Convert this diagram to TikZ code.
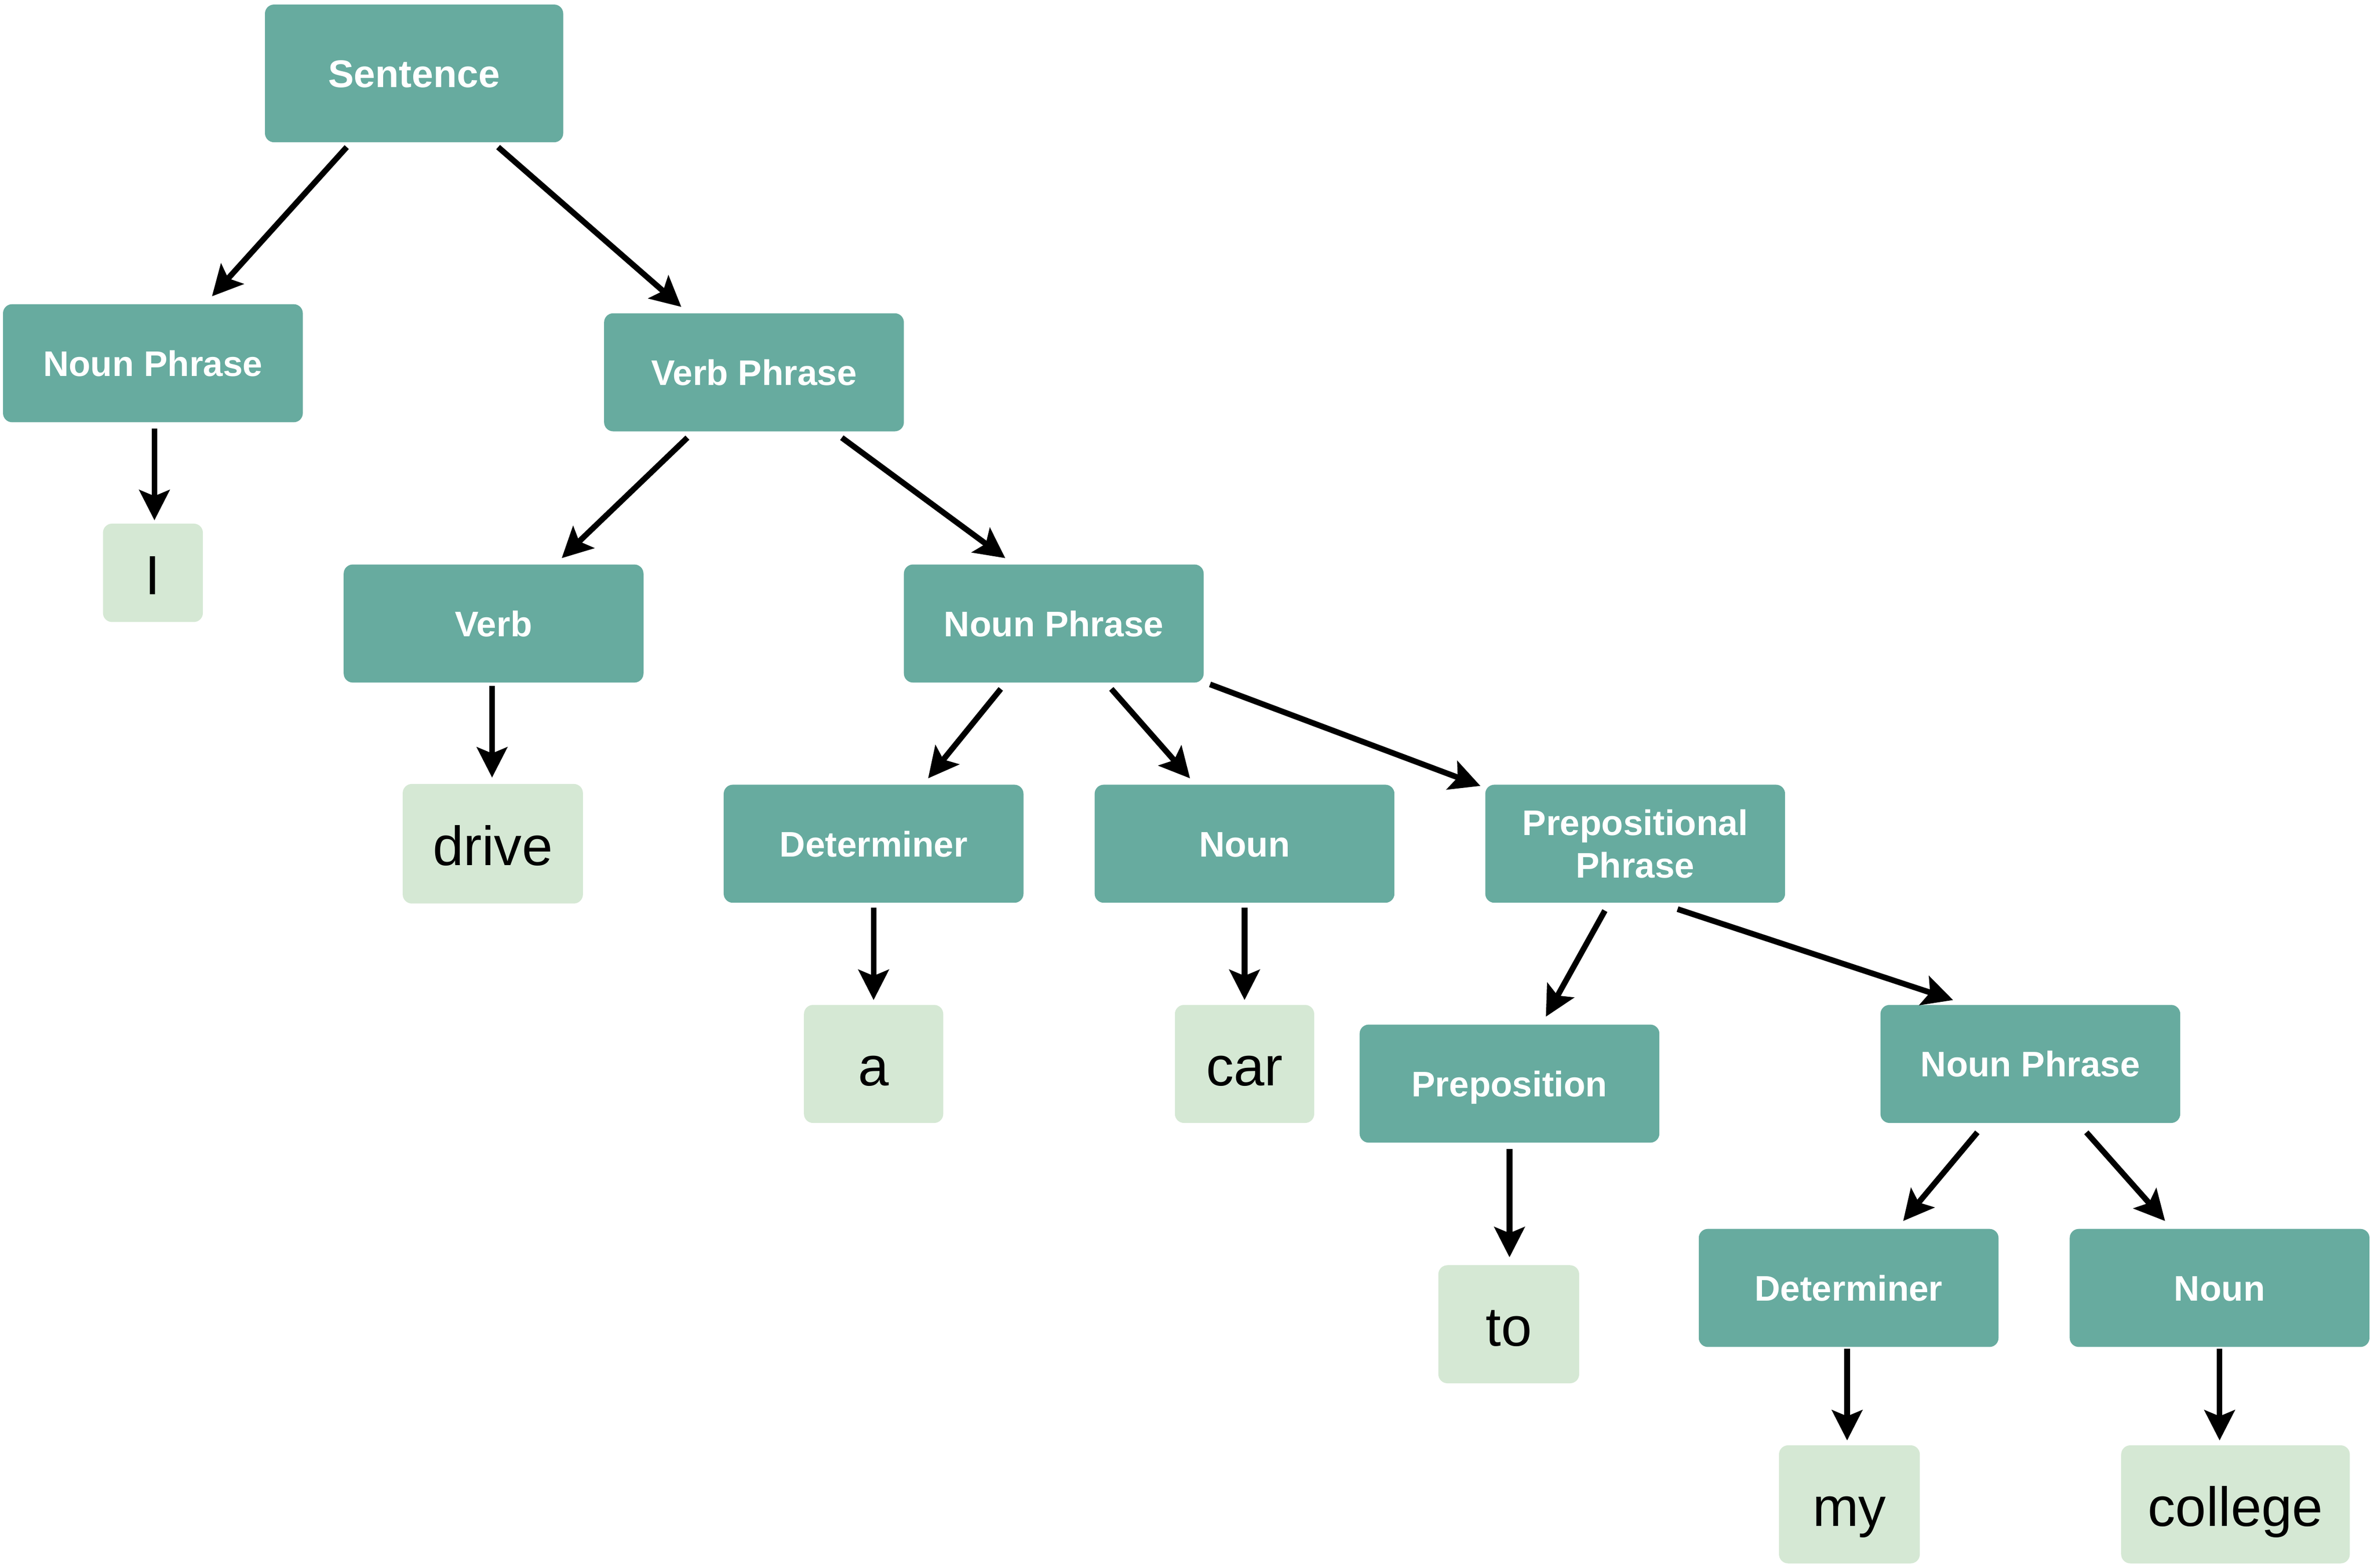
\documentclass[tikz,border=0pt]{standalone}
\usepackage{fontspec}
\setmainfont{Liberation Sans}
\usetikzlibrary{arrows.meta}
\definecolor{darkbox}{HTML}{67AB9F}
\definecolor{lightbox}{HTML}{D5E8D4}
\tikzset{
  phr/.style={rounded corners=6pt, fill=darkbox, text=white, font=\bfseries\fontsize{23.5}{28}\selectfont,
    minimum width=198pt, minimum height=78pt, inner sep=0pt, align=center, text height=17pt, text depth=0pt},
  leaf/.style={rounded corners=6pt, fill=lightbox, text=black, font=\fontsize{36.5}{40}\selectfont,
    minimum height=78pt, inner sep=0pt, text height=28.8pt, text depth=0pt},
  arr/.style={-{Stealth[length=20pt,width=20pt,inset=4pt]}, line width=3.8pt, black}
}
\begin{document}
\begin{tikzpicture}[x=1pt,y=-1pt]
\useasboundingbox (0,0) rectangle (1568,1036);
% phrase nodes
\node[phr, minimum width=197pt, minimum height=91pt, text height=18.5pt, font=\bfseries\fontsize{25.5}{30}\selectfont] (s) at (273.5,48.5) {Sentence};
\node[phr] (np1) at (101,240) {Noun Phrase};
\node[phr] (vp) at (498,246) {Verb Phrase};
\node[phr] (verb) at (326,412) {Verb};
\node[phr] (np2) at (696,412) {Noun Phrase};
\node[phr] (det1) at (577,557.5) {Determiner};
\node[phr] (noun1) at (822,557.5) {Noun};
\node[phr, text height=45pt] (pp) at (1080,557.5) {Prepositional\\Phrase};
\node[phr] (prep) at (997,716) {Preposition};
\node[phr] (np3) at (1341,703) {Noun Phrase};
\node[phr] (det2) at (1221,851) {Determiner};
\node[phr] (noun2) at (1466,851) {Noun};
% leaves
\node[leaf, minimum width=66pt, minimum height=65pt] (wi) at (101,378.5) {I};
\node[leaf, minimum width=119pt, minimum height=79pt] (wdrive) at (325.5,557.5) {drive};
\node[leaf, minimum width=92pt] (wa) at (577,703) {a};
\node[leaf, minimum width=92pt] (wcar) at (822,703) {car};
\node[leaf, minimum width=93pt] (wto) at (996.5,875) {to};
\node[leaf, minimum width=93pt] (wmy) at (1221.5,994) {my};
\node[leaf, minimum width=151pt] (wcollege) at (1476.5,994) {college};
% connectors
\draw[arr] ([xshift=-44.5pt,yshift=-3pt]s.south) -- ([xshift=39pt,yshift=5pt]np1.north);
\draw[arr] ([xshift=55.5pt,yshift=-3pt]s.south) -- ([xshift=-48pt,yshift=4pt]vp.north);
\draw[arr] ([xshift=1pt,yshift=-4pt]np1.south) -- ([xshift=1pt,yshift=2pt]wi.north);
\draw[arr] ([xshift=-44pt,yshift=-4pt]vp.south) -- ([xshift=45pt,yshift=4pt]verb.north);
\draw[arr] ([xshift=58pt,yshift=-4pt]vp.south) -- ([xshift=-32pt,yshift=4pt]np2.north);
\draw[arr] ([xshift=-1pt,yshift=-2pt]verb.south) -- ([xshift=-0.5pt,yshift=4pt]wdrive.north);
\draw[arr] ([xshift=-35pt,yshift=-4pt]np2.south) -- ([xshift=36pt,yshift=4pt]det1.north);
\draw[arr] ([xshift=38pt,yshift=-4pt]np2.south) -- ([xshift=-36pt,yshift=4pt]noun1.north);
\draw[arr] ([xshift=4pt,yshift=-1pt]np2.south east) -- ([xshift=-3pt,yshift=-1pt]pp.north west);
\draw[arr] ([yshift=-3pt]det1.south) -- ([yshift=3pt]wa.north);
\draw[arr] ([yshift=-3pt]noun1.south) -- ([yshift=3pt]wcar.north);
\draw[arr] ([xshift=-20pt,yshift=-5pt]pp.south) -- ([xshift=24pt,yshift=5pt]prep.north);
\draw[arr] ([xshift=28pt,yshift=-4pt]pp.south) -- ([xshift=-51pt,yshift=3pt]np3.north);
\draw[arr] ([yshift=-4pt]prep.south) -- ([xshift=0.5pt,yshift=5pt]wto.north);
\draw[arr] ([xshift=-35pt,yshift=-6pt]np3.south) -- ([xshift=36pt,yshift=5pt]det2.north);
\draw[arr] ([xshift=37pt,yshift=-6pt]np3.south) -- ([xshift=-36pt,yshift=5pt]noun2.north);
\draw[arr] ([xshift=-1pt,yshift=-1pt]det2.south) -- ([xshift=-1.5pt,yshift=3pt]wmy.north);
\draw[arr] ([yshift=-1pt]noun2.south) -- ([xshift=-10.5pt,yshift=3pt]wcollege.north);
\end{tikzpicture}
\end{document}
